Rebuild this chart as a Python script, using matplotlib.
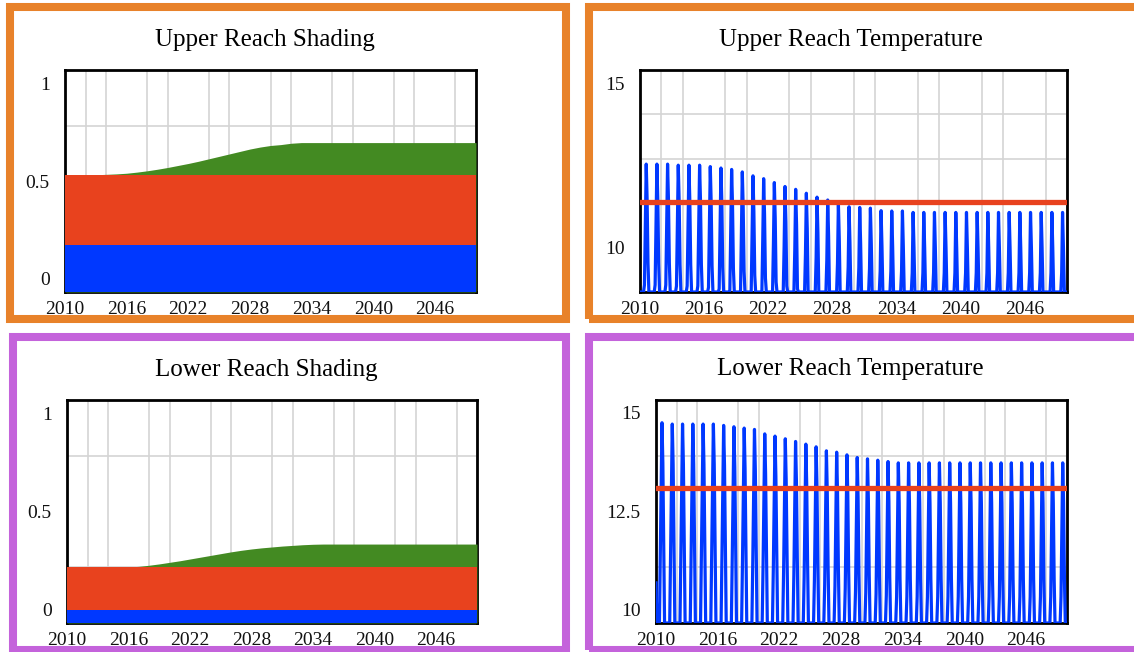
import numpy as np
import matplotlib.pyplot as plt
from matplotlib.patches import Rectangle
from matplotlib.transforms import ScaledTranslation

plt.rcParams["font.family"] = ["Liberation Serif", "DejaVu Serif"]

# ---- shading data (fraction of channel shaded), annual 2010..2050 ----
years = np.arange(2010, 2051)

upper_blue = 0.21
upper_red = 0.528
upper_green = [0.528, 0.528, 0.528, 0.528, 0.530, 0.532, 0.535, 0.540, 0.546, 0.553,
               0.561, 0.570, 0.579, 0.589, 0.600, 0.611, 0.622, 0.633, 0.644, 0.653,
               0.660, 0.664, 0.670, 0.673, 0.673, 0.673, 0.673, 0.673, 0.673, 0.673,
               0.673, 0.673, 0.673, 0.673, 0.673, 0.673, 0.673, 0.673, 0.673, 0.673,
               0.673]

lower_blue = 0.06
lower_red = 0.251
lower_green = [0.251, 0.251, 0.251, 0.251, 0.251, 0.251, 0.251, 0.254, 0.259, 0.265,
               0.272, 0.279, 0.287, 0.295, 0.303, 0.311, 0.319, 0.326, 0.332, 0.337,
               0.341, 0.345, 0.348, 0.351, 0.353, 0.354, 0.354, 0.354, 0.354, 0.354,
               0.354, 0.354, 0.354, 0.354, 0.354, 0.354, 0.354, 0.354, 0.354, 0.354,
               0.354]

# ---- temperature data: summer peak per year 2010..2049 and monthly offsets ----
upper_peaks = [12.35, 12.35, 12.35, 12.32, 12.32, 12.32, 12.28, 12.24, 12.20, 12.13,
               12.02, 11.94, 11.83, 11.72, 11.64, 11.53, 11.42, 11.34, 11.25, 11.15,
               11.13, 11.11, 11.04, 11.03, 11.03, 10.99, 10.99, 10.99, 10.99, 10.99,
               10.99, 10.99, 10.99, 10.99, 10.99, 10.99, 10.99, 10.99, 10.99, 10.99]
upper_month_offset = [-8.6, -8.8, -8.4, -7.4, -5.6, -3.4, -1.7, 0.0, -1.0, -2.8, -5.0, -7.2]
upper_target = 11.27

lower_peaks = [14.49, 14.46, 14.46, 14.46, 14.46, 14.46, 14.43, 14.40, 14.37, 14.34,
               14.24, 14.19, 14.13, 14.07, 14.01, 13.95, 13.86, 13.83, 13.77, 13.71,
               13.68, 13.65, 13.62, 13.59, 13.59, 13.59, 13.59, 13.59, 13.59, 13.59,
               13.59, 13.59, 13.59, 13.59, 13.59, 13.59, 13.59, 13.59, 13.59, 13.59]
lower_month_offset = [-8.0, -8.3, -8.0, -6.6, -4.8, -3.0, -1.4, 0.0, -0.9, -2.6, -4.6, -6.4]
lower_start = 10.9
lower_target = 13.03

xticks = [2010, 2016, 2022, 2028, 2034, 2040, 2046]

BLUE = "#0038FF"
RED = "#E8421E"
GREEN = "#438A22"
ORANGE = "#E8822A"
VIOLET = "#C463DB"
GRID = "#D4D4D4"

W, H = 1134, 652
fig = plt.figure(figsize=(W / 100, H / 100), dpi=100)


def px_axes(left, top, right, bottom):
    return fig.add_axes([left / W, 1 - bottom / H, (right - left) / W, (bottom - top) / H])


def frame(left, top, right, bottom, color):
    fig.patches.append(Rectangle((left / W, 1 - bottom / H), (right - left) / W,
                                 (bottom - top) / H, transform=fig.transFigure,
                                 fill=False, edgecolor=color, linewidth=5.8))


def style(ax, ylim, ystep, yticks, ylabels):
    ax.set_xlim(2010, 2050)
    ax.set_ylim(*ylim)
    ax.set_xticks(np.arange(2010, 2051, 2), minor=True)
    ax.set_yticks(np.arange(ylim[0], ylim[1] + 1e-9, ystep), minor=True)
    ax.grid(which="minor", color=GRID, linewidth=1.2, zorder=0)
    ax.set_axisbelow(True)
    ax.set_xticks(xticks)
    ax.set_xticklabels([str(x) for x in xticks])
    ax.set_yticks(yticks)
    ax.set_yticklabels(ylabels)
    ax.tick_params(which="both", length=0, labelsize=14, colors="#111111")
    ax.tick_params(axis="x", pad=6.5)
    ax.tick_params(axis="y", pad=11)
    # end labels sit just inside the top and bottom edges
    for lab, v in zip(ax.get_yticklabels(), yticks):
        if v == ylim[1]:
            lab.set_transform(lab.get_transform() + ScaledTranslation(0, -0.13, fig.dpi_scale_trans))
        elif v == ylim[0]:
            lab.set_transform(lab.get_transform() + ScaledTranslation(0, 0.14, fig.dpi_scale_trans))
    for s in ax.spines.values():
        s.set_linewidth(2)
        s.set_color("black")


def shading(ax, blue, red, green):
    ax.fill_between(years, 0, green, color=GREEN, linewidth=0, zorder=3)
    ax.fill_between(years, 0, red, color=RED, linewidth=0, zorder=3)
    ax.fill_between(years, 0, blue, color=BLUE, linewidth=0, zorder=3)
    style(ax, (0, 1), 0.25, [0, 0.5, 1], ["0", "0.5", "1"])


def temperature(ax, peaks, offsets, target, ylim, yticks, ylabels, start=None):
    n = np.arange(len(peaks) * 12 + 1)
    t = 2010 + n / 12
    yi = np.minimum(n // 12, len(peaks) - 1)
    temp = np.array(peaks)[yi] + np.array(offsets)[n % 12]
    if start is not None:
        temp[0] = start
    # values under the axis floor are drawn along the bottom edge
    ax.plot(t, np.maximum(temp, ylim[0]), color=BLUE, linewidth=2.3, zorder=3)
    ax.plot([2010, 2050], [target, target], color=RED, linewidth=3.8, zorder=4)
    style(ax, ylim, 1.25, yticks, ylabels)


ax1 = px_axes(65, 70, 476, 292)
shading(ax1, upper_blue, upper_red, upper_green)

ax2 = px_axes(640, 70, 1067, 292)
temperature(ax2, upper_peaks, upper_month_offset, upper_target,
            (8.75, 15), [10, 15], ["10", "15"])

ax3 = px_axes(67, 400, 477, 623)
shading(ax3, lower_blue, lower_red, lower_green)

ax4 = px_axes(656, 400, 1067, 623)
temperature(ax4, lower_peaks, lower_month_offset, lower_target,
            (10, 15), [10, 12.5, 15], ["10", "12.5", "15"], start=lower_start)

tkw = dict(ha="center", va="center", fontsize=18, color="black")
fig.text(265 / W, 1 - 40 / H, "Upper Reach Shading", **tkw)
fig.text(851 / W, 1 - 40 / H, "Upper Reach Temperature", **tkw)
fig.text(266 / W, 1 - 370 / H, "Lower Reach Shading", **tkw)
fig.text(850 / W, 1 - 369 / H, "Lower Reach Temperature", **tkw)

frame(10, 7, 566, 319, ORANGE)
frame(589, 7, 1145, 319, ORANGE)
frame(13, 337, 566, 650, VIOLET)
frame(589, 337, 1145, 650, VIOLET)

fig.savefig("out.png", dpi=100)
